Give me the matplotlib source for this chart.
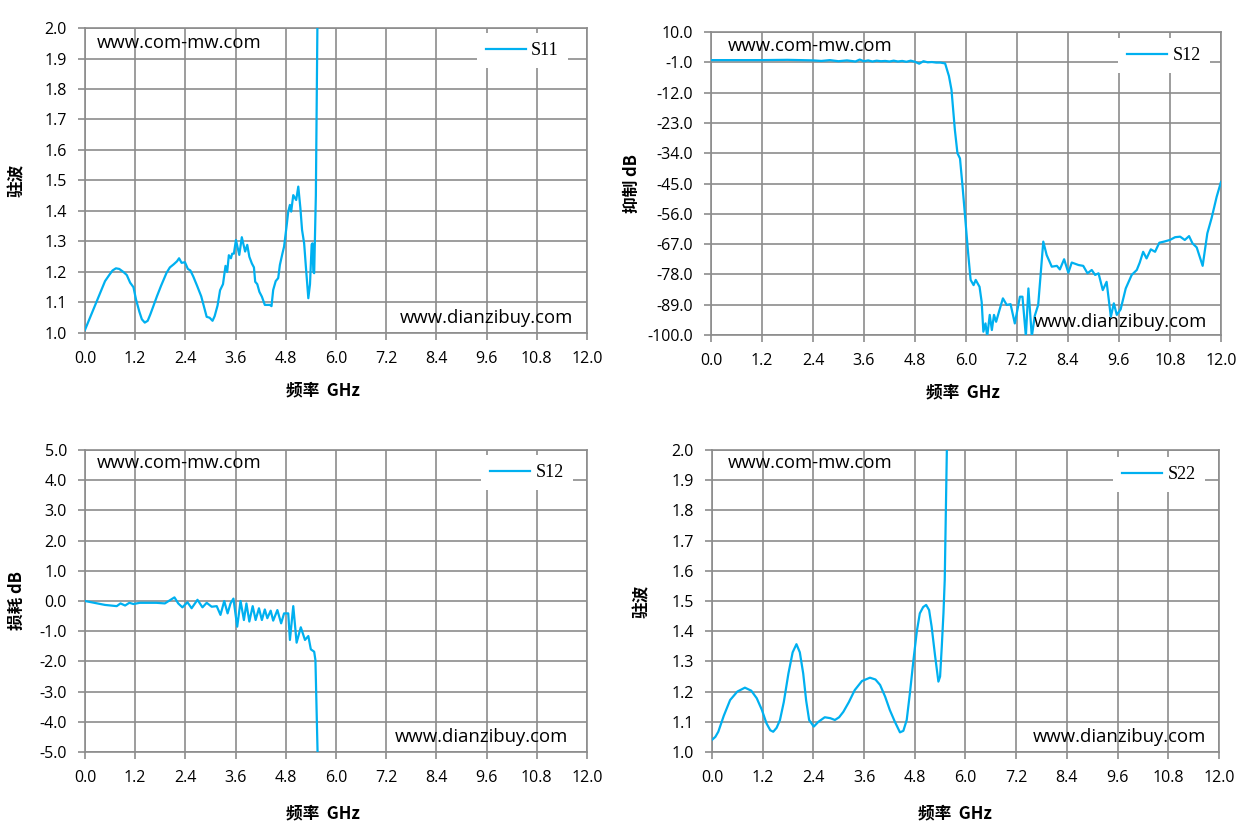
import matplotlib
matplotlib.use('Agg')
import matplotlib.pyplot as plt
import numpy as np

plt.rcParams['font.family'] = ['Open Sans', 'DejaVu Sans']

# S11 驻波
s11_f = [0.0, 0.12, 0.24, 0.36, 0.48, 0.58, 0.66, 0.74, 0.82, 0.92, 1.0, 1.08, 1.16, 1.22, 1.30, 1.36,
         1.43, 1.50, 1.56, 1.63, 1.72, 1.82, 1.95, 2.03, 2.12, 2.20, 2.25, 2.31, 2.39, 2.46, 2.52, 2.59,
         2.68, 2.78, 2.91, 2.98, 3.05, 3.10, 3.17, 3.23, 3.30, 3.36, 3.40, 3.44, 3.49, 3.52, 3.56, 3.61,
         3.65, 3.69, 3.75, 3.79, 3.83, 3.88, 3.93, 3.99, 4.04, 4.07, 4.12, 4.17, 4.23, 4.30, 4.42, 4.46,
         4.50, 4.56, 4.62, 4.66, 4.72, 4.76, 4.82, 4.86, 4.90, 4.93, 4.98, 5.05, 5.10, 5.15, 5.19,
         5.24, 5.28, 5.34, 5.38, 5.42, 5.44, 5.46, 5.48, 5.52, 5.56, 5.60]
s11_v = [1.01, 1.05, 1.09, 1.13, 1.17, 1.19, 1.205, 1.212, 1.21, 1.20, 1.19, 1.165, 1.15, 1.11, 1.07, 1.045,
         1.034, 1.04, 1.06, 1.086, 1.12, 1.155, 1.197, 1.215, 1.225, 1.235, 1.245, 1.23, 1.232, 1.21, 1.205, 1.185,
         1.155, 1.12, 1.053, 1.05, 1.04, 1.055, 1.09, 1.14, 1.16, 1.22, 1.20, 1.255, 1.245, 1.26, 1.26, 1.305,
         1.28, 1.256, 1.314, 1.29, 1.267, 1.289, 1.25, 1.228, 1.215, 1.168, 1.16, 1.135, 1.119, 1.092, 1.092, 1.088,
         1.141, 1.17, 1.18, 1.223, 1.26, 1.283, 1.35, 1.398, 1.42, 1.398, 1.452, 1.436, 1.48, 1.41, 1.338,
         1.294, 1.22, 1.114, 1.16, 1.29, 1.294, 1.2, 1.196, 1.45, 2.05, 2.6]

# S12 抑制
rej_f = [0.0, 0.6, 1.2, 1.8, 2.1, 2.4, 2.6, 2.8, 3.0, 3.2, 3.4, 3.5, 3.6, 3.7, 3.8, 3.9, 4.0, 4.1, 4.2, 4.3,
         4.4, 4.5, 4.6, 4.7, 4.8, 4.9, 5.0, 5.1, 5.2, 5.3, 5.4, 5.51, 5.60, 5.66, 5.74, 5.80, 5.86, 5.92, 5.98,
         6.05, 6.11, 6.18, 6.23, 6.32, 6.37, 6.41, 6.46, 6.50, 6.56, 6.61, 6.66, 6.71, 6.79, 6.87, 6.96, 7.05,
         7.15, 7.27, 7.33, 7.41, 7.47, 7.55, 7.62, 7.70, 7.82, 7.90, 8.02, 8.14, 8.21, 8.31, 8.41, 8.49, 8.65,
         8.76, 8.86, 8.96, 9.04, 9.12, 9.22, 9.31, 9.41, 9.48, 9.55, 9.64, 9.76, 9.90, 10.02, 10.09, 10.17,
         10.25, 10.35, 10.45, 10.55, 10.66, 10.80, 10.92, 11.04, 11.15, 11.25, 11.33, 11.43, 11.57, 11.68,
         11.78, 11.90, 12.0]
rej_v = [-0.2, -0.2, -0.2, -0.1, -0.2, -0.3, -0.5, -0.2, -0.6, -0.3, -0.7, 0.0, -0.6, -0.3, -0.7, -0.4,
         -0.6, -0.5, -0.7, -0.4, -0.7, -0.5, -0.8, -0.4, -0.8, -1.5, -0.6, -1.0, -0.9, -1.1, -1.1, -1.4,
         -6.0, -11.0, -25.6, -34.0, -35.9, -46.0, -57.0, -70.0, -80.0, -81.9, -80.0, -82.5, -88.0, -98.8,
         -95.8, -100.6, -92.7, -98.2, -92.7, -95.2, -90.9, -86.7, -89.1, -88.8, -95.8, -86.1, -86.1, -100.5,
         -83.1, -100.6, -93.0, -89.1, -66.1, -71.0, -75.2, -74.9, -76.2, -72.5, -77.4, -73.7, -74.6, -74.9,
         -77.6, -76.4, -78.2, -77.6, -83.7, -80.7, -93.4, -88.5, -92.7, -90.7, -83.1, -78.2, -76.4, -73.7,
         -69.8, -72.2, -68.9, -69.8, -66.5, -66.1, -65.5, -64.5, -64.3, -65.5, -64.1, -66.7, -68.2, -74.9,
         -63.1, -57.6, -49.8, -44.5]

# S12 损耗
loss_f = [0.0, 0.48, 0.76, 0.85, 0.96, 1.06, 1.16, 1.31, 1.71, 1.91, 2.14, 2.23, 2.33, 2.45, 2.55,
          2.69, 2.81, 2.91, 3.03, 3.15, 3.24, 3.33, 3.41, 3.48, 3.55, 3.64, 3.72, 3.80, 3.86, 3.93,
          4.01, 4.08, 4.16, 4.23, 4.30, 4.36, 4.44, 4.50, 4.60, 4.69, 4.76, 4.86, 4.90, 4.98, 5.06,
          5.16, 5.26, 5.34, 5.40, 5.48, 5.51, 5.56, 5.58]
loss_v = [0.0, -0.13, -0.17, -0.08, -0.15, -0.06, -0.1, -0.06, -0.06, -0.08, 0.12, -0.08, -0.21, -0.04,
          -0.24, 0.04, -0.21, -0.06, -0.19, -0.17, -0.46, 0.0, -0.41, -0.08, 0.08, -0.85, 0.0, -0.63,
          -0.08, -0.68, -0.17, -0.63, -0.24, -0.63, -0.28, -0.57, -0.32, -0.65, -0.3, -0.74, -0.41, -0.41,
          -1.29, -0.17, -1.38, -0.87, -1.29, -1.16, -1.6, -1.68, -1.96, -4.94, -6.0]

# S22 驻波
s22_f = [0.0, 0.08, 0.15, 0.28, 0.43, 0.60, 0.78, 0.93, 1.06, 1.18, 1.29, 1.38, 1.45, 1.53, 1.61, 1.70,
         1.81, 1.91, 2.0, 2.08, 2.16, 2.23, 2.30, 2.41, 2.52, 2.67, 2.80, 2.91, 3.01, 3.11, 3.24, 3.38,
         3.55, 3.74, 3.87, 3.98, 4.10, 4.21, 4.33, 4.45, 4.53, 4.61, 4.69, 4.77, 4.85, 4.92, 5.00, 5.07,
         5.14, 5.20, 5.28, 5.36, 5.40, 5.44, 5.48, 5.51, 5.56, 5.60]
s22_v = [1.04, 1.05, 1.067, 1.12, 1.172, 1.20, 1.213, 1.203, 1.178, 1.14, 1.095, 1.072, 1.067, 1.08, 1.106,
         1.165, 1.26, 1.33, 1.357, 1.33, 1.26, 1.17, 1.106, 1.084, 1.10, 1.115, 1.112, 1.106, 1.115, 1.133,
         1.165, 1.205, 1.235, 1.246, 1.24, 1.222, 1.183, 1.139, 1.10, 1.065, 1.07, 1.106, 1.20, 1.305, 1.40,
         1.459, 1.48, 1.487, 1.47, 1.415, 1.32, 1.233, 1.25, 1.349, 1.46, 1.57, 2.0, 2.4]

xticks = [0.0, 1.2, 2.4, 3.6, 4.8, 6.0, 7.2, 8.4, 9.6, 10.8, 12.0]

blue = '#00B0F0'
grid = '#8C8C8C'
cjk = ['Noto Sans CJK SC', 'DejaVu Sans']

fig = plt.figure(figsize=(12.53, 8.36), dpi=100)

panels = [
    # rect, x, y, label, yticks, ylabel, leg anchor, xlabel pos, ylabel pos, text1 pos, text2 pos
    ([0.0678, 0.6017, 0.4006, 0.3648], s11_f, s11_v, 'S11', np.arange(1.0, 2.01, 0.1), '驻波',
     (0.962, 0.984), (0.474, -0.187), (-0.135, 0.5), (0.024, 0.951), (0.972, 0.049)),
    ([0.5674, 0.5993, 0.4070, 0.3624], rej_f, rej_v, 'S12', np.arange(-100, 10.1, 11), '抑制 dB',
     (0.978, 0.98), (0.494, -0.191), (-0.155, 0.5), (0.033, 0.954), (0.973, 0.043)),
    ([0.0678, 0.1005, 0.4006, 0.3612], loss_f, loss_v, 'S12', np.arange(-5, 5.1, 1), '损耗 dB',
     (0.972, 0.983), (0.474, -0.202), (-0.135, 0.5), (0.024, 0.957), (0.962, 0.05)),
    ([0.5682, 0.1005, 0.4046, 0.3612], s22_f, s22_v, 'S22', np.arange(1.0, 2.01, 0.1), '驻波',
     (0.972, 0.977), (0.479, -0.202), (-0.138, 0.5), (0.032, 0.957), (0.974, 0.05)),
]

for rect, xs, ys, name, yt, ylab, leg, xlp, ylp, t1, t2 in panels:
    ax = fig.add_axes(rect)
    ax.plot(xs, ys, color=blue, lw=1.6, label=name, zorder=3)
    ax.set_xlim(0, 12)
    ax.set_ylim(yt[0], yt[-1])
    ax.set_xticks(xticks)
    ax.set_xticklabels(['%.1f' % v for v in xticks])
    ax.set_yticks(yt)
    ax.set_yticklabels(['%.1f' % v for v in yt])
    ax.grid(True, color=grid, lw=1.2)
    for s in ax.spines.values():
        s.set_color(grid)
        s.set_linewidth(1.2)
    ax.tick_params(direction='out', length=5, width=1.2, color=grid, labelsize=11.5, pad=8)
    ax.set_xlabel('频率  GHz', family=cjk, fontweight='bold', fontsize=12, va='center')
    ax.xaxis.set_label_coords(*xlp)
    ax.set_ylabel(ylab, family=cjk, fontweight='bold', fontsize=12, va='center')
    ax.yaxis.set_label_coords(*ylp)
    ax.text(t1[0], t1[1], 'www.com-mw.com', transform=ax.transAxes, fontsize=13.3,
            ha='left', va='center', zorder=4)
    ax.text(t2[0], t2[1], 'www.dianzibuy.com', transform=ax.transAxes, fontsize=13.3,
            ha='right', va='center', zorder=4)
    lg = ax.legend(loc='upper right', bbox_to_anchor=leg, frameon=True, fancybox=False,
                   edgecolor='none', facecolor='white', framealpha=1, handlelength=2.2,
                   handletextpad=0.3, borderpad=0.5, borderaxespad=0,
                   prop={'family': 'Liberation Serif', 'size': 13})
    lg.set_zorder(5)

fig.savefig('out.png', dpi=100)
